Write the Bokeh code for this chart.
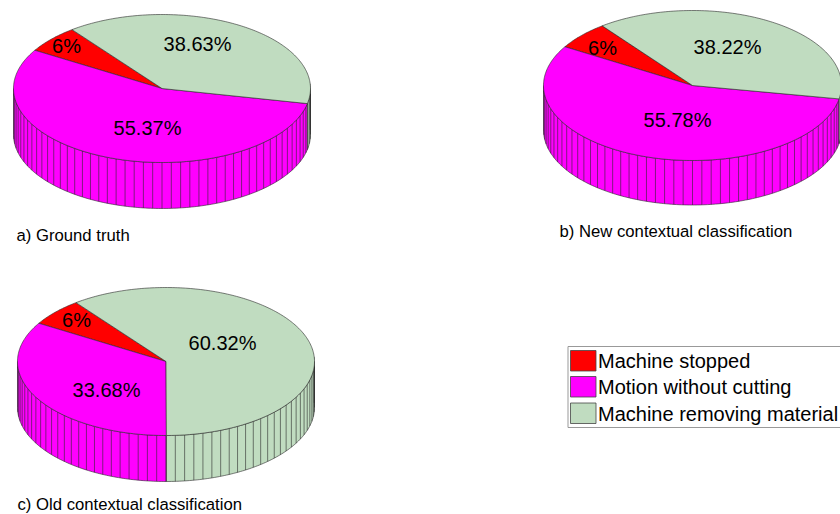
import numpy as np
from bokeh.plotting import figure
from bokeh.models import Range1d
from bokeh.core.properties import value
from bokeh.embed import file_html
from bokeh.resources import INLINE

# ---- data ----
series_names = ["Machine stopped", "Motion without cutting", "Machine removing material"]
ground_truth = [6, 55.37, 38.63]
new_contextual = [6, 55.78, 38.22]
old_contextual = [6, 33.68, 60.32]
captions = ["a) Ground truth", "b) New contextual classification", "c) Old contextual classification"]

# ---- styles / layout ----
colors = ["#FF0000", "#FF00FF", "#C0DCC0"]
EDGE = "#2a2a2a"
LW = 0.6
FONT = value("Liberation Sans")
FACET_DEG = 3.6
RED_START_DEG = 127.3  # the red slice starts here, counter-clockwise
pies = [
    dict(vals=ground_truth, cx=161.5, cy=88, rx=148.5, ry=74, depth=46,
         label_xy=[(66, 45), (147, 127), (197, 43)], cap_xy=(16, 235)),
    dict(vals=new_contextual, cx=692, cy=85, rx=149, ry=75, depth=44.5,
         label_xy=[(602, 47), (677, 119), (727, 46)], cap_xy=(559, 231)),
    dict(vals=old_contextual, cx=165.5, cy=361, rx=148.5, ry=74, depth=46,
         label_xy=[(76, 319), (106, 389), (222, 342)], cap_xy=(17, 504)),
]

p = figure(width=840, height=514, output_backend="svg", toolbar_location=None,
           x_range=Range1d(0, 840), y_range=Range1d(514, 0),
           min_border=0, outline_line_color=None)
p.axis.visible = False
p.grid.visible = False


def point(pie, deg, drop=0.0):
    a = np.radians(deg)
    return pie["cx"] + pie["rx"] * np.cos(a), pie["cy"] - pie["ry"] * np.sin(a) + drop


def arc(pie, a0, a1, drop=0.0):
    n = max(2, int(abs(a1 - a0)) + 2)
    return point(pie, np.linspace(a0, a1, n), drop)


for pie in pies:
    spans = []
    start = RED_START_DEG
    for v in pie["vals"]:
        end = start + v * 3.6
        spans.append((start, end))
        start = end

    for (a0, a1), col in zip(spans, colors):
        for lo, hi in ((180, 360), (540, 720)):
            b0, b1 = max(a0, lo), min(a1, hi)
            if b1 <= b0:
                continue
            xt, yt = arc(pie, b0, b1)
            xb, yb = arc(pie, b1, b0, pie["depth"])
            p.patch(np.r_[xt, xb], np.r_[yt, yb], fill_color=col,
                    line_color=EDGE, line_width=LW)

    facets = np.arange(180, 360.01, FACET_DEG) + (270 - 180) % FACET_DEG
    fx, fy = point(pie, facets)
    p.segment(fx, fy, fx, fy + pie["depth"], line_color=EDGE, line_width=LW)

    for (a0, a1), col in zip(spans, colors):
        xa, ya = arc(pie, a0, a1)
        p.patch(np.r_[pie["cx"], xa], np.r_[pie["cy"], ya], fill_color=col,
                line_color=EDGE, line_width=LW)

    for v, (lx, ly) in zip(pie["vals"], pie["label_xy"]):
        p.text([lx], [ly], text=[f"{v:g}%"], text_font=FONT, text_font_size="20px",
               text_align="center", text_baseline="middle", text_color="#000000")

for pie, cap in zip(pies, captions):
    p.text([pie["cap_xy"][0]], [pie["cap_xy"][1]], text=[cap], text_font=FONT,
           text_font_size="16.7px", text_align="left", text_baseline="middle",
           text_color="#000000")

LEG_L, LEG_T, LEG_R, LEG_B = 567.5, 346, 842, 427
p.quad(left=[LEG_L], right=[LEG_R], top=[LEG_T], bottom=[LEG_B], fill_color="white",
       line_color="#999999", line_width=1)
sw_tops = [350, 376, 402.5]
for name, col, t in zip(series_names, colors, sw_tops):
    p.quad(left=[570], right=[595.5], top=[t], bottom=[t + 20.5], fill_color=col,
           line_color="#444444", line_width=0.8)
    p.text([597.5], [t + 10.5], text=[name], text_font=FONT, text_font_size="20px",
           text_align="left", text_baseline="middle", text_color="#000000")

open("out.html", "w").write(file_html(p, INLINE))
